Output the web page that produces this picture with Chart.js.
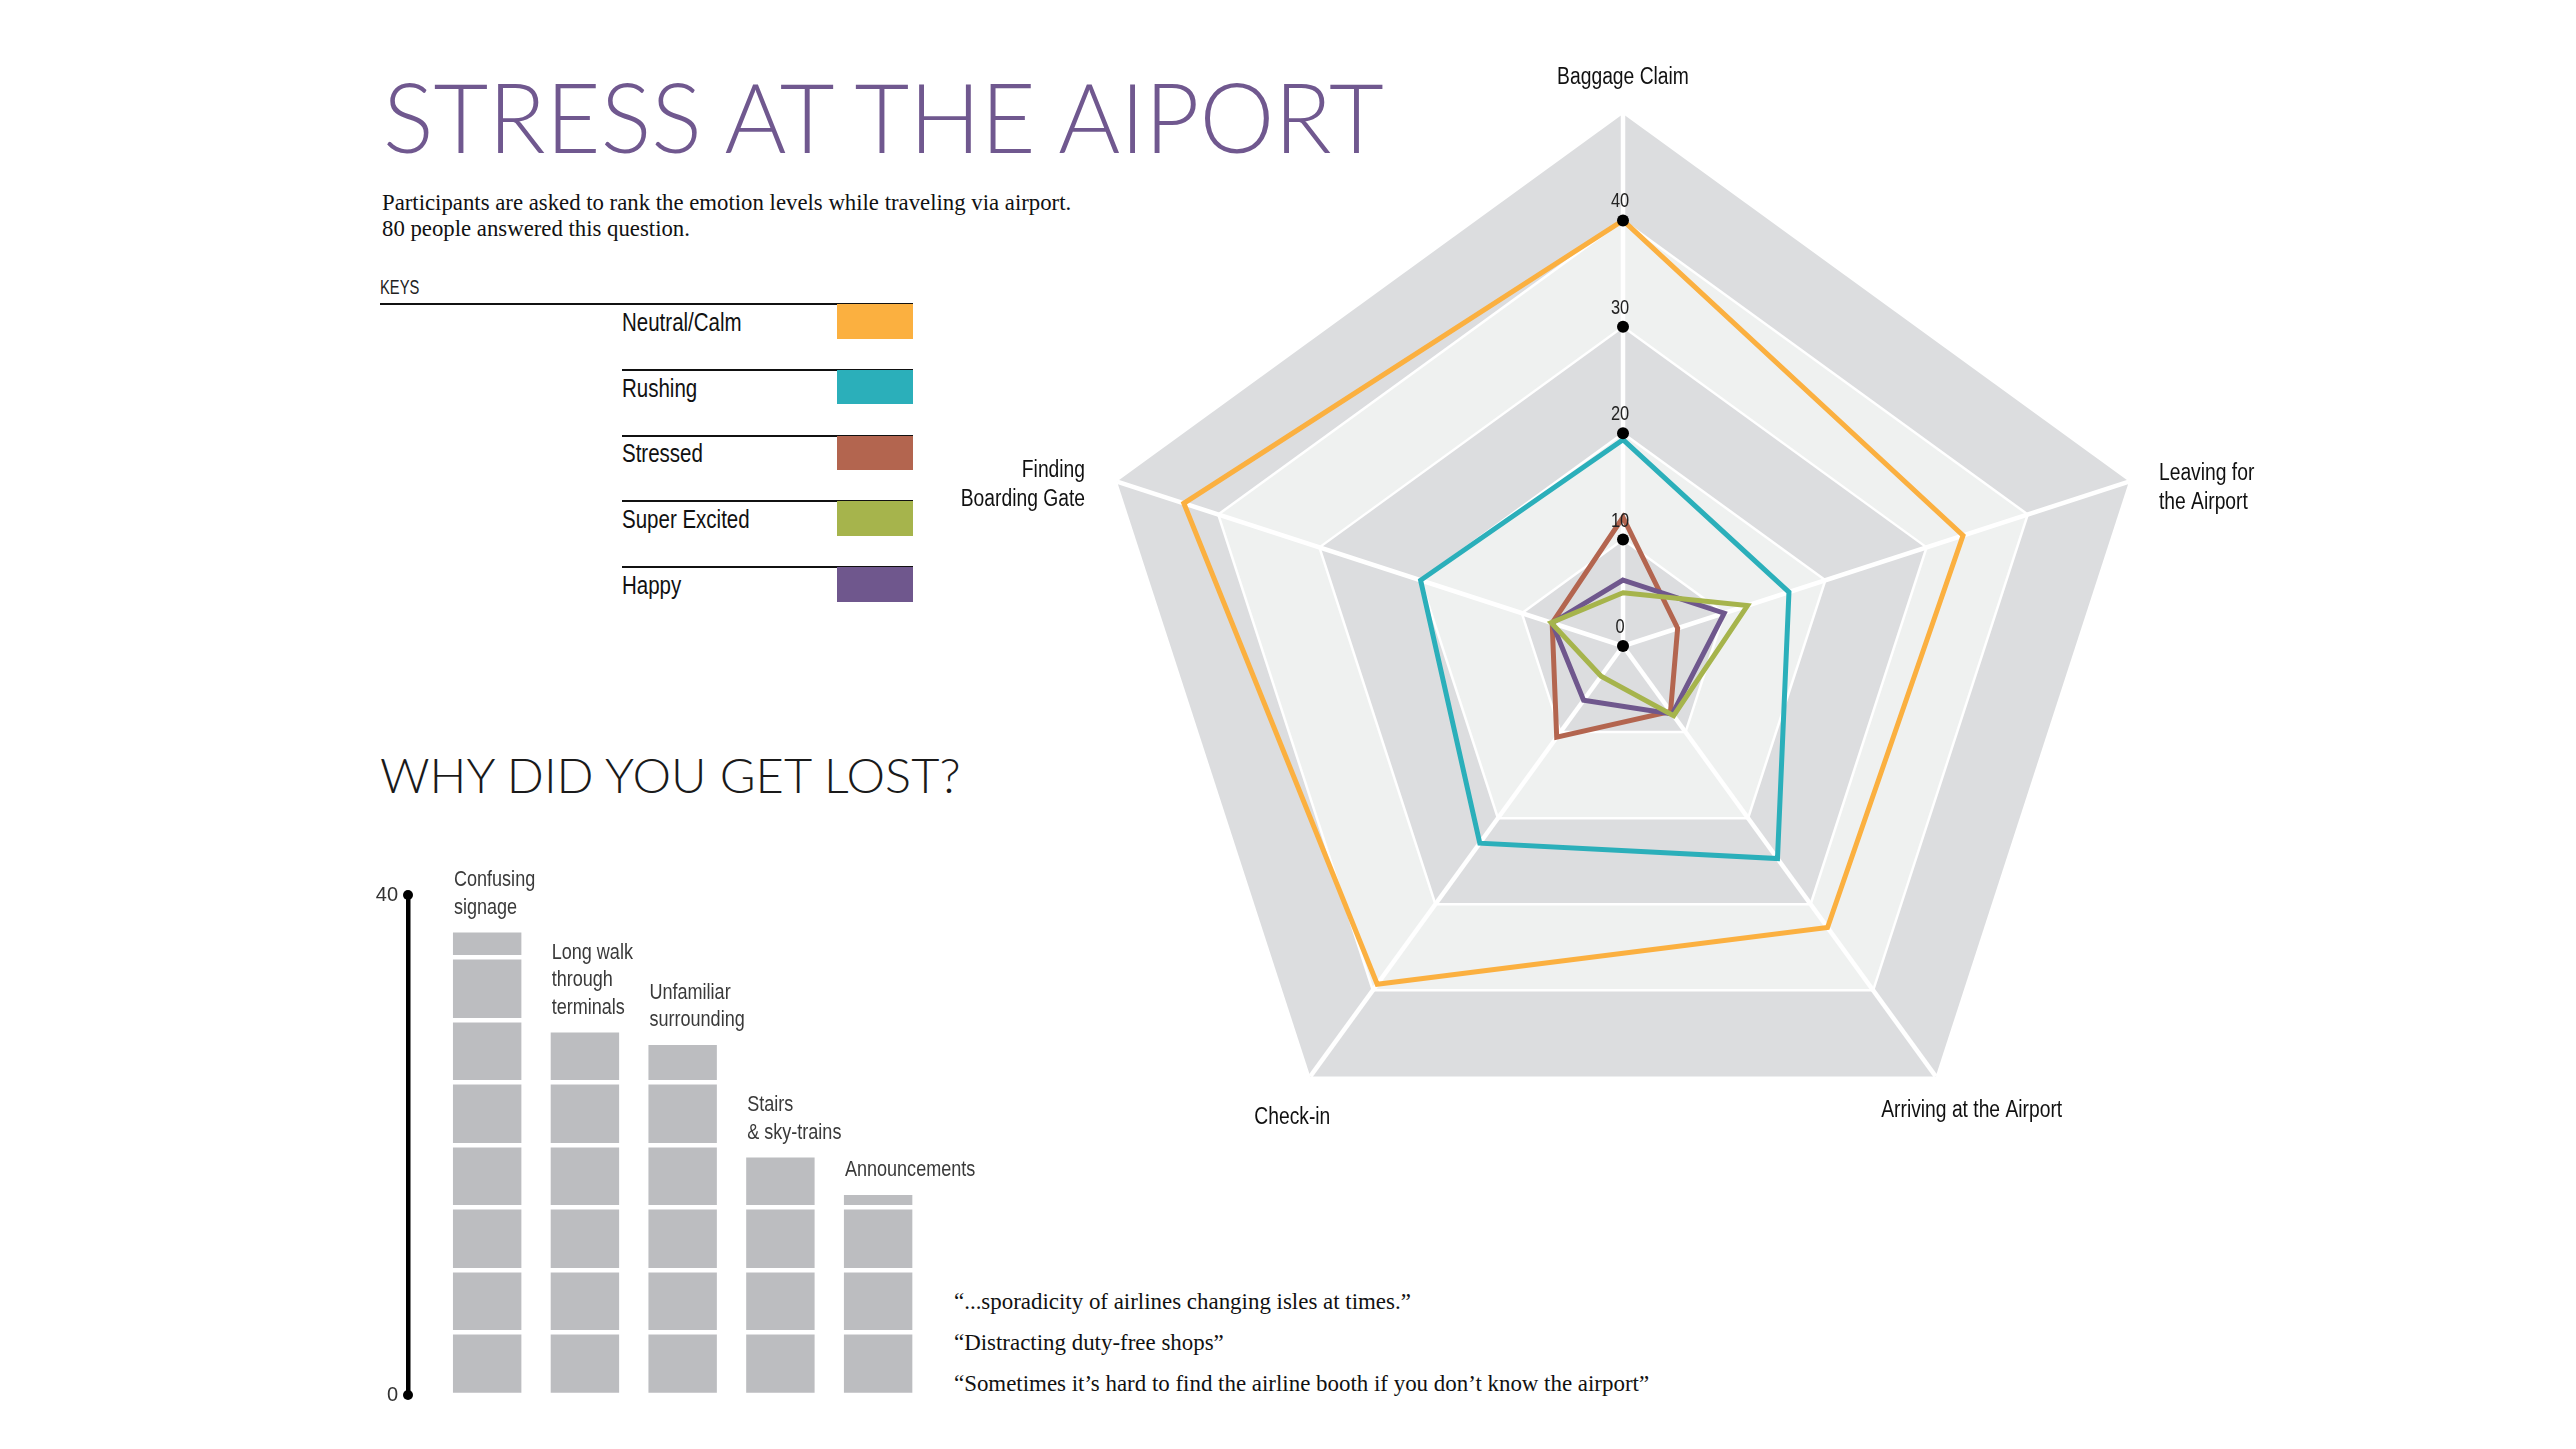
<!DOCTYPE html>
<html>
<head>
<meta charset="utf-8">
<title>Stress at the Airport</title>
<script src="https://cdn.jsdelivr.net/npm/chart.js@4.4.1/dist/chart.umd.min.js"></script>
<style>
  html, body { margin:0; padding:0; background:#ffffff; }
  body { width:2576px; height:1449px; position:relative; overflow:hidden; }
  .t { position:absolute; white-space:nowrap; display:inline-block; transform-origin:0 0; }
  .narrow { font-family:'Liberation Sans',Arimo,sans-serif; }
  .serif { font-family:'Liberation Serif','DejaVu Serif',serif; }
  .thin { font-family:Lato,'Open Sans',sans-serif; font-weight:300; }
  #title { left:383px; top:68px; font-size:96px; line-height:96px; color:#70588f; }
  #subtitle { left:382px; top:189.5px; font-size:23px; line-height:26.8px; color:#111; }
  #lostTitle { left:380px; top:752px; font-size:47px; line-height:47px; color:#1a1a1a; }
  #quotes { left:954px; top:1281px; font-size:24px; line-height:41.1px; color:#111; }
  #keys { left:380px; top:277px; font-size:20px; line-height:20px; color:#222; }
  .rule { position:absolute; height:2px; background:#111; }
  .sw { position:absolute; left:837px; width:76px; height:34.5px; }
  .lg { position:absolute; left:622px; font-size:25px; line-height:25px; color:#111; white-space:nowrap; transform-origin:0 0; transform:scaleX(0.82); }
  canvas { position:absolute; }
  #radar { left:900px; top:40px; }
  #bars { left:340px; top:840px; }
</style>
</head>
<body>
<div id="title" class="t thin" data-w="1001">STRESS AT THE AIPORT</div>
<div id="subtitle" class="t serif" data-w="689">Participants are asked to rank the emotion levels while traveling via airport.<br>80 people answered this question.</div>
<div id="keys" class="t narrow" data-w="39">KEYS</div>
<div id="legend"></div>
<div id="lostTitle" class="t thin" data-w="580">WHY DID YOU GET LOST?</div>
<div id="quotes" class="t serif" data-w="695">“...sporadicity of airlines changing isles at times.”<br>“Distracting duty-free shops”<br>“Sometimes it’s hard to find the airline booth if you don’t know the airport”</div>
<canvas id="radar" width="1450" height="1140"></canvas>
<canvas id="bars" width="660" height="590"></canvas>
<script>
// ---------------- DATA ----------------
const radarAxes = [['Baggage Claim'], ['Leaving for', 'the Airport'], ['Arriving at the Airport'], ['Check-in'], ['Finding', 'Boarding Gate']];
const seriesNames = ['Neutral/Calm', 'Rushing', 'Stressed', 'Super Excited', 'Happy'];
const neutralCalm  = [40.0, 33.6, 32.7, 39.3, 43.4];
const rushing      = [19.4, 16.4, 24.7, 22.9, 20.0];
const stressed     = [12.1, 5.4, 7.6, 10.6, 7.0];
const superExcited = [5.0, 12.3, 8.1, 3.5, 7.1];
const happy        = [6.2, 10.0, 7.9, 6.3, 7.0];
const radarMax = 50;
const radarStep = 10;

const lostCategories = [['Confusing', 'signage'], ['Long walk', 'through', 'terminals'], ['Unfamiliar', 'surrounding'], ['Stairs', '& sky-trains'], ['Announcements']];
const lostValues = [37, 29, 28, 19, 16];
const lostAxisMax = 40;
const lostTickLabels = [0, 40];
const lostBlock = 5;

// ---------------- STYLES ----------------
const seriesColors = ['#FBB040', '#2BAFBA', '#B3654F', '#A6B44C', '#6F578D'];
const drawOrder = [4, 3, 2, 0, 1];   // lower = drawn on top
const SANS = "'Liberation Sans',Arimo,sans-serif";
const NARROW_SCALE = 0.82;
const bandColors = ['#DCDDDF', '#EFF1F0'];
// label placement relative to outer vertex (dx, dy to first baseline, align)
const axisLabelPlace = [
  { dx: 0,   dy: -30, align: 'center' },
  { dx: 30,  dy: -2,  align: 'left' },
  { dx: 36,  dy: 41,  align: 'center' },
  { dx: -18, dy: 48,  align: 'center' },
  { dx: -32, dy: -5,  align: 'right' }
];

function narrowText(ctx, text, x, y, align, size, color, sx) {
  ctx.save();
  ctx.font = size + 'px ' + SANS;
  ctx.fillStyle = color;
  ctx.textAlign = align;
  ctx.textBaseline = 'alphabetic';
  ctx.translate(x, y);
  ctx.scale(sx || NARROW_SCALE, 1);
  ctx.fillText(text, 0, 0);
  ctx.restore();
}

// ---------------- LEGEND (HTML) ----------------
(function buildLegend() {
  const el = document.getElementById('legend');
  const top0 = 304, pitch = 65.8;
  let html = '<div class="rule" style="left:380px;width:533px;top:303px"></div>';
  seriesNames.forEach((name, i) => {
    const y = top0 + i * pitch;
    if (i > 0) html += '<div class="rule" style="left:622px;width:291px;top:' + (y - 1) + 'px"></div>';
    html += '<div class="sw" style="top:' + y + 'px;background:' + seriesColors[i] + '"></div>';
    html += '<div class="lg narrow" style="top:' + (y + 5.8) + 'px">' + name + '</div>';
  });
  el.innerHTML = html;
})();

// ---------------- RADAR ----------------
const bandPlugin = {
  id: 'bands',
  beforeDraw(chart) {
    const s = chart.scales.r;
    const ctx = chart.ctx;
    const vals = s.ticks.map(t => t.value).filter(v => v > 0).sort((a, b) => b - a);
    const n = chart.data.labels.length;
    vals.forEach((v, k) => {
      ctx.save();
      ctx.beginPath();
      for (let i = 0; i < n; i++) {
        const p = s.getPointPositionForValue(i, v);
        if (i === 0) ctx.moveTo(p.x, p.y); else ctx.lineTo(p.x, p.y);
      }
      ctx.closePath();
      ctx.fillStyle = bandColors[k % 2];
      ctx.fill();
      ctx.restore();
    });
  }
};

const radarDecor = {
  id: 'radarDecor',
  afterDatasetsDraw(chart) {
    const s = chart.scales.r;
    const ctx = chart.ctx;
    s.ticks.forEach(t => {
      if (t.value >= s.max) return;
      const p = s.getPointPositionForValue(0, t.value);
      ctx.save();
      ctx.beginPath();
      ctx.arc(p.x, p.y, 6, 0, Math.PI * 2);
      ctx.fillStyle = '#000';
      ctx.fill();
      ctx.restore();
      narrowText(ctx, String(t.value), p.x - 3, p.y - 13, 'center', 20, '#222');
    });
    chart.data.labels.forEach((lines, i) => {
      const p = s.getPointPosition(i, s.drawingArea);
      const pl = axisLabelPlace[i];
      lines.forEach((ln, k) => narrowText(ctx, ln, p.x + pl.dx, p.y + pl.dy + k * 29, pl.align, 23.5, '#111'));
    });
  }
};

const radarSeries = [neutralCalm, rushing, stressed, superExcited, happy];
new Chart(document.getElementById('radar'), {
  type: 'radar',
  data: {
    labels: radarAxes,
    datasets: radarSeries.map((d, i) => ({
      label: seriesNames[i],
      data: d,
      borderColor: seriesColors[i],
      backgroundColor: seriesColors[i],
      order: drawOrder[i]
    }))
  },
  options: {
    responsive: false,
    animation: false,
    devicePixelRatio: 1,
    layout: { padding: { left: 191.5, right: 194.5, top: 74, bottom: 2 } },
    plugins: { legend: { display: false }, tooltip: { enabled: false } },
    elements: {
      line: { borderWidth: 5, tension: 0, borderJoinStyle: 'miter', fill: false },
      point: { radius: 0, hoverRadius: 0 }
    },
    scales: {
      r: {
        min: 0,
        max: radarMax,
        ticks: { stepSize: radarStep, display: false },
        pointLabels: { display: false },
        angleLines: { color: '#ffffff', lineWidth: 4.5 },
        grid: {
          color: c => (c.tick && c.tick.value > 0 && c.tick.value < radarMax) ? '#ffffff' : 'rgba(0,0,0,0)',
          lineWidth: 2.5
        }
      }
    }
  },
  plugins: [bandPlugin, radarDecor]
});

// ---------------- BARS ----------------
const barDecor = {
  id: 'barDecor',
  afterDraw(chart) {
    const ctx = chart.ctx;
    const y = chart.scales.y;
    const meta = chart.getDatasetMeta(0);
    ctx.save();
    ctx.fillStyle = '#000';
    [y.min, y.max].forEach(v => {
      ctx.beginPath();
      ctx.arc(chart.chartArea.left, y.getPixelForValue(v), 5, 0, Math.PI * 2);
      ctx.fill();
    });
    ctx.restore();
    meta.data.forEach((bar, i) => {
      const lines = lostCategories[i];
      const left = bar.x - bar.width / 2 + 1;
      const n = lines.length;
      lines.forEach((ln, k) => {
        narrowText(ctx, ln, left, bar.y - 19 - (n - 1 - k) * 27.5, 'left', 22, '#3a3a3a');
      });
    });
  }
};

new Chart(document.getElementById('bars'), {
  type: 'bar',
  data: {
    datasets: [{
      data: lostValues.map((v, i) => ({ x: i, y: v })),
      backgroundColor: '#BCBDC0',
      borderWidth: 0,
      categoryPercentage: 1,
      barPercentage: 0.7
    }]
  },
  options: {
    responsive: false,
    animation: false,
    devicePixelRatio: 1,
    layout: { padding: { left: 0, right: 73, top: 55, bottom: 35 } },
    plugins: { legend: { display: false }, tooltip: { enabled: false } },
    scales: {
      x: {
        type: 'linear',
        min: -0.81,
        max: 4.5,
        offset: false,
        display: false,
        afterBuildTicks: s => { s.ticks = lostValues.map((_, i) => ({ value: i })); }
      },
      y: {
        min: 0,
        max: lostAxisMax,
        afterFit: s => { s.width = 68; },
        ticks: {
          stepSize: lostBlock,
          callback: v => lostTickLabels.includes(v) ? String(v) : '',
          color: '#333',
          padding: 10,
          font: { family: SANS, size: 20 }
        },
        grid: {
          color: c => (c.tick && c.tick.value > 0 && c.tick.value < lostAxisMax) ? '#ffffff' : 'rgba(0,0,0,0)',
          lineWidth: 4.5,
          drawTicks: false,
          z: 1
        },
        border: { display: true, color: '#000', width: 4.5, z: 2 }
      }
    }
  },
  plugins: [barDecor]
});

// ---------------- TEXT WIDTH FITTING ----------------
function fitTexts() {
  document.querySelectorAll('[data-w]').forEach(el => {
    el.style.transform = 'none';
    const w = el.offsetWidth;
    const target = parseFloat(el.getAttribute('data-w'));
    if (w > 0) el.style.transform = 'scaleX(' + (target / w) + ')';
  });
}
fitTexts();
if (document.fonts && document.fonts.ready) document.fonts.ready.then(fitTexts);
</script>
</body>
</html>
